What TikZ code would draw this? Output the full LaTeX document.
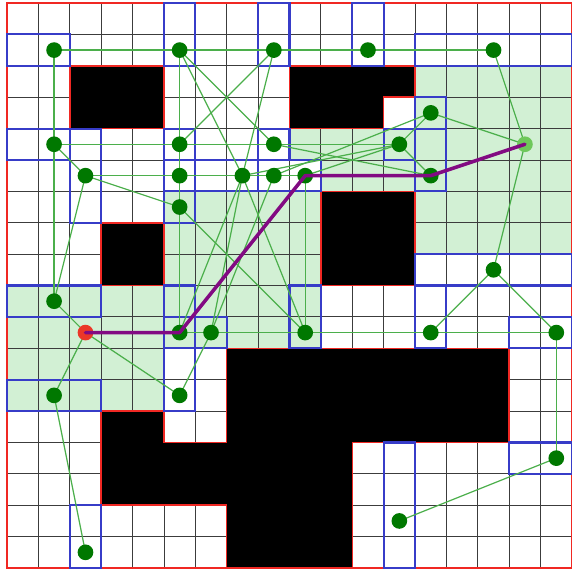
\documentclass[tikz,border=0pt]{standalone}
\usetikzlibrary{backgrounds}
\definecolor{gridc}{RGB}{60,60,60}
\definecolor{redc}{RGB}{240,40,35}
\definecolor{bluec}{RGB}{55,60,200}
\definecolor{edgec}{RGB}{75,175,75}
\definecolor{nodec}{RGB}{0,120,0}
\definecolor{shadec}{RGB}{210,240,212}
\definecolor{pathc}{RGB}{130,10,130}
\definecolor{startc}{RGB}{235,55,40}
\definecolor{goalc}{RGB}{110,200,90}
\begin{document}
\begin{tikzpicture}[x=1cm,y=-1cm,
  gridline/.style={draw=gridc,line width=0.75pt},
  obst/.style={fill=black,draw=redc,line width=1.4pt},
  shade/.style={fill=shadec,draw=none},
  box/.style={draw=bluec,line width=1.9pt},
  edge/.style={draw=edgec,line width=1.1pt},
  pathline/.style={draw=pathc,line width=3.2pt,line join=round,line cap=round},
  vert/.style={circle,fill=nodec,inner sep=0pt,minimum size=0.5cm},
  startv/.style={vert,fill=startc},
  goalv/.style={vert,fill=goalc}]
\useasboundingbox (-0.223,-0.096) rectangle (18.0,18.057);
% nodes
\node[vert] (n1) at (1.5,1.5) {};
\node[vert] (n2) at (5.5,1.5) {};
\node[vert] (n3) at (8.5,1.5) {};
\node[vert] (n4) at (11.5,1.5) {};
\node[vert] (n5) at (15.5,1.5) {};
\node[vert] (n6) at (13.5,3.5) {};
\node[goalv] (n7) at (16.5,4.5) {};
\node[vert] (n8) at (1.5,4.5) {};
\node[vert] (n9) at (5.5,4.5) {};
\node[vert] (n10) at (8.5,4.5) {};
\node[vert] (n11) at (12.5,4.5) {};
\node[vert] (n12) at (2.5,5.5) {};
\node[vert] (n13) at (5.5,5.5) {};
\node[vert] (n14) at (7.5,5.5) {};
\node[vert] (n15) at (8.5,5.5) {};
\node[vert] (n16) at (9.5,5.5) {};
\node[vert] (n17) at (13.5,5.5) {};
\node[vert] (n18) at (5.5,6.5) {};
\node[vert] (n19) at (15.5,8.5) {};
\node[vert] (n20) at (1.5,9.5) {};
\node[startv] (n21) at (2.5,10.5) {};
\node[vert] (n22) at (5.5,10.5) {};
\node[vert] (n23) at (6.5,10.5) {};
\node[vert] (n24) at (9.5,10.5) {};
\node[vert] (n25) at (13.5,10.5) {};
\node[vert] (n26) at (17.5,10.5) {};
\node[vert] (n27) at (1.5,12.5) {};
\node[vert] (n28) at (5.5,12.5) {};
\node[vert] (n29) at (17.5,14.5) {};
\node[vert] (n30) at (12.5,16.5) {};
\node[vert] (n31) at (2.5,17.5) {};
\begin{pgfonlayer}{background}
\fill[white] (-0.223,-0.096) rectangle (18.0,18.057);
% shaded regions
\path[shade] (0,9) rectangle (5,13);
\path[shade] (5,6) rectangle (10,11);
\path[shade] (9,4) rectangle (13,5);
\path[shade] (10,5) rectangle (13,6);
\path[shade] (13,2) rectangle (18,8);
% grid
\draw[gridline] (0,0) grid (18,18);
% obstacles
\draw[obst] (2,2) rectangle (5,4);
\draw[obst] (9,2) -- (13,2) -- (13,3) -- (12,3) -- (12,4) -- (9,4) -- cycle;
\draw[obst] (3,7) rectangle (5,9);
\draw[obst] (10,6) rectangle (13,9);
\draw[obst] (7,11) -- (16,11) -- (16,14) -- (11,14) -- (11,18) -- (7,18) -- (7,16) -- (3,16) -- (3,13) -- (5,13) -- (5,14) -- (7,14) -- cycle;
\draw[draw=redc,line width=1.4pt] (0,0) rectangle (18,18);
% boxes
\draw[box] (0,1) rectangle (2,2);
\draw[box] (5,0) rectangle (6,2);
\draw[box] (8,0) rectangle (9,2);
\draw[box] (11,0) rectangle (12,2);
\draw[box] (13,1) rectangle (18,2);
\draw[box] (0,4) rectangle (2,5);
\draw[box] (2,4) rectangle (3,7);
\draw[box] (5,4) rectangle (6,5);
\draw[box] (5,5) rectangle (6,6);
\draw[box] (5,6) rectangle (6,7);
\draw[box] (6,5) rectangle (8,6);
\draw[box] (8,4) rectangle (9,5);
\draw[box] (8,5) rectangle (10,6);
\draw[box] (12,4) rectangle (13,5);
\draw[box] (13,3) rectangle (14,4);
\draw[box] (13,4) rectangle (14,6);
\draw[box] (13,8) rectangle (18,9);
\draw[box] (0,9) rectangle (3,10);
\draw[box] (5,9) rectangle (6,10);
\draw[box] (5,10) rectangle (6,11);
\draw[box] (6,10) rectangle (7,11);
\draw[box] (9,9) rectangle (10,11);
\draw[box] (13,9) rectangle (14,11);
\draw[box] (16,10) rectangle (18,11);
\draw[box] (0,12) rectangle (3,13);
\draw[box] (5,11) rectangle (6,13);
\draw[box] (16,14) rectangle (18,15);
\draw[box] (12,14) rectangle (13,18);
\draw[box] (2,16) rectangle (3,18);
% edges
\foreach \a/\b in {n1/n2,n2/n3,n3/n4,n4/n5,n1/n8,n8/n20,n8/n12,n12/n20,n12/n18,
  n2/n9,n9/n13,n13/n18,n18/n22,n8/n9,n9/n10,n10/n11,
  n12/n13,n13/n14,n14/n15,n15/n16,n16/n17,
  n5/n7,n6/n7,n7/n19,n17/n7,n6/n11,n11/n17,
  n19/n25,n19/n26,n21/n22,n22/n23,n23/n24,n24/n25,n25/n26,n26/n29,n29/n30,
  n20/n21,n21/n27,n21/n28,n27/n31,n23/n28,
  n2/n10,n3/n9,n2/n14,n3/n14,n14/n22,n14/n23,n14/n24,n18/n24,
  n16/n24,n15/n23,n14/n11,n15/n6,n16/n11,n10/n17}
  \draw[edge] (\a.center) -- (\b.center);
\end{pgfonlayer}
% path
\draw[pathline] (n21.center) -- (n22.center) -- (n16.center) -- (n17.center) -- (n7.center);
\end{tikzpicture}
\end{document}
